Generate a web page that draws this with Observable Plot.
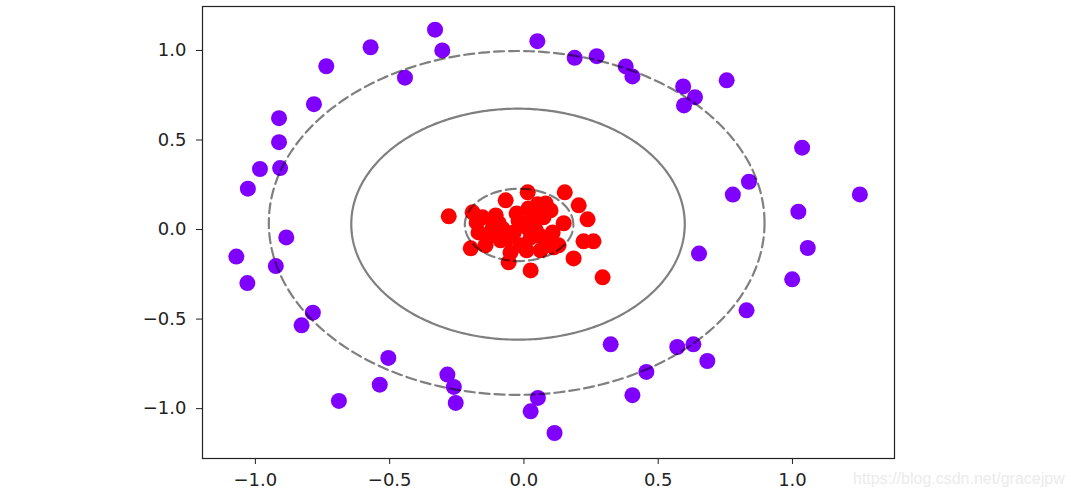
<!DOCTYPE html>
<html><head><meta charset="utf-8">
<script src="https://cdn.jsdelivr.net/npm/d3@7"></script>
<script src="https://cdn.jsdelivr.net/npm/@observablehq/plot@0.6"></script>
<style>
body{margin:0;background:#fff;}
#wrap{position:relative;width:1071px;height:500px;}
#wm{position:absolute;left:853px;top:470px;font:16px "Liberation Sans",Arial,sans-serif;color:#ebebeb;white-space:nowrap;}
</style></head><body>
<div id="wrap"><div id="chart"></div><div id="wm">https://blog.csdn.net/gracejpw</div></div>
<script>
// Outer ring samples (class 0, purple)
const outerX = [-0.331,-0.571,-0.304,0.050,-0.736,-0.443,-0.782,-0.912,-0.912,-0.983,-0.908,-1.028,-0.885,
  0.189,0.271,0.379,0.404,0.593,0.637,0.596,0.755,1.036,0.838,0.778,1.251,1.022,
  -1.071,-0.924,-1.030,-0.786,-0.828,-0.505,-0.537,-0.689,-0.285,-0.261,-0.254,0.052,0.025,
  0.652,1.057,0.999,0.829,0.323,0.571,0.631,0.683,0.456,0.404,0.114];
const outerY = [1.116,1.018,1.000,1.052,0.912,0.848,0.700,0.622,0.488,0.338,0.343,0.228,-0.044,
  0.959,0.968,0.911,0.855,0.799,0.739,0.693,0.833,0.457,0.267,0.195,0.196,0.100,
  -0.151,-0.204,-0.299,-0.464,-0.535,-0.717,-0.866,-0.957,-0.810,-0.879,-0.968,-0.940,-1.015,
  -0.134,-0.103,-0.278,-0.451,-0.641,-0.656,-0.641,-0.734,-0.795,-0.925,-1.136];
// Inner cluster samples (class 1, red)
const innerX = [-0.280,-0.191,-0.154,-0.198,-0.169,-0.131,-0.143,-0.117,-0.094,-0.068,
  -0.057,-0.050,-0.038,-0.027,-0.012,-0.005,0.014,0.017,0.010,0.025,
  0.025,0.044,0.073,0.081,0.085,0.073,0.111,0.129,0.148,0.152,
  0.204,0.237,0.222,0.259,0.185,0.293,-0.087,-0.020,0.051,0.099,
  0.062,-0.105,-0.176,0.032,-0.061,0.010,0.107,-0.124,0.062,-0.080];
const innerY = [0.074,0.096,0.068,-0.105,-0.016,-0.038,-0.088,0.007,0.035,0.163,
  -0.183,-0.127,-0.016,0.090,-0.088,0.035,0.208,0.118,0.012,-0.044,
  -0.228,-0.004,0.090,0.146,-0.077,0.068,-0.099,-0.088,0.035,0.208,
  0.135,0.057,-0.066,-0.066,-0.161,-0.267,-0.060,0.051,0.141,0.107,
  -0.116,0.079,0.040,0.062,-0.049,-0.116,-0.016,-0.030,-0.038,0.005];
// Decision function contour levels (approximated as ellipses)
const contourLevel = [-1, 0, 1];
const contourCx = [-0.018, -0.022, -0.027];
const contourCy = [0.026, 0.030, 0.037];
const contourRx = [0.202, 0.621, 0.923];
const contourRy = [0.202, 0.645, 0.960];
const xTicks = [-1.0, -0.5, 0.0, 0.5, 1.0];
const yTicks = [-1.0, -0.5, 0.0, 0.5, 1.0];

const outer = outerX.map((x, i) => ({x, y: outerY[i]}));
const inner = innerX.map((x, i) => ({x, y: innerY[i]}));
const ang = d3.range(0, 361).map(i => i * Math.PI / 180);
const ellipsePts = contourLevel.flatMap((lv, i) => ang.map(t => ({
  level: lv,
  x: contourCx[i] + contourRx[i] * Math.cos(t),
  y: contourCy[i] + contourRy[i] * Math.sin(t)
})));
const fmt = d => d.toFixed(1).replace("-", "\u2212");

const chart = Plot.plot({
  width: 1071, height: 500,
  marginLeft: 202, marginRight: 177, marginTop: 6, marginBottom: 42,
  x: {domain: [-1.197, 1.380]},
  y: {domain: [-1.2785, 1.2455]},
  style: {fontFamily: "'DejaVu Sans', sans-serif", background: "white"},
  marks: [
    Plot.dot(outer, {x: "x", y: "y", r: 8, fill: "#8000ff"}),
    Plot.dot(inner, {x: "x", y: "y", r: 8, fill: "#ff0000"}),
    Plot.line(ellipsePts.filter(d => d.level !== 0), {x: "x", y: "y", z: "level", stroke: "black", strokeOpacity: 0.5, strokeWidth: 2.2, strokeDasharray: "10,5"}),
    Plot.line(ellipsePts.filter(d => d.level === 0), {x: "x", y: "y", z: "level", stroke: "black", strokeOpacity: 0.5, strokeWidth: 2.2}),
    Plot.frame({stroke: "#222", strokeWidth: 1.2}),
    Plot.axisX({ticks: xTicks, tickFormat: fmt, tickSize: 6, tickPadding: 9, fontSize: 18, label: null, color: "#222"}),
    Plot.axisY({ticks: yTicks, tickFormat: fmt, tickSize: 6, tickPadding: 10, fontSize: 18, label: null, color: "#222"})
  ]
});
document.getElementById("chart").appendChild(chart);
</script>
</body></html>
